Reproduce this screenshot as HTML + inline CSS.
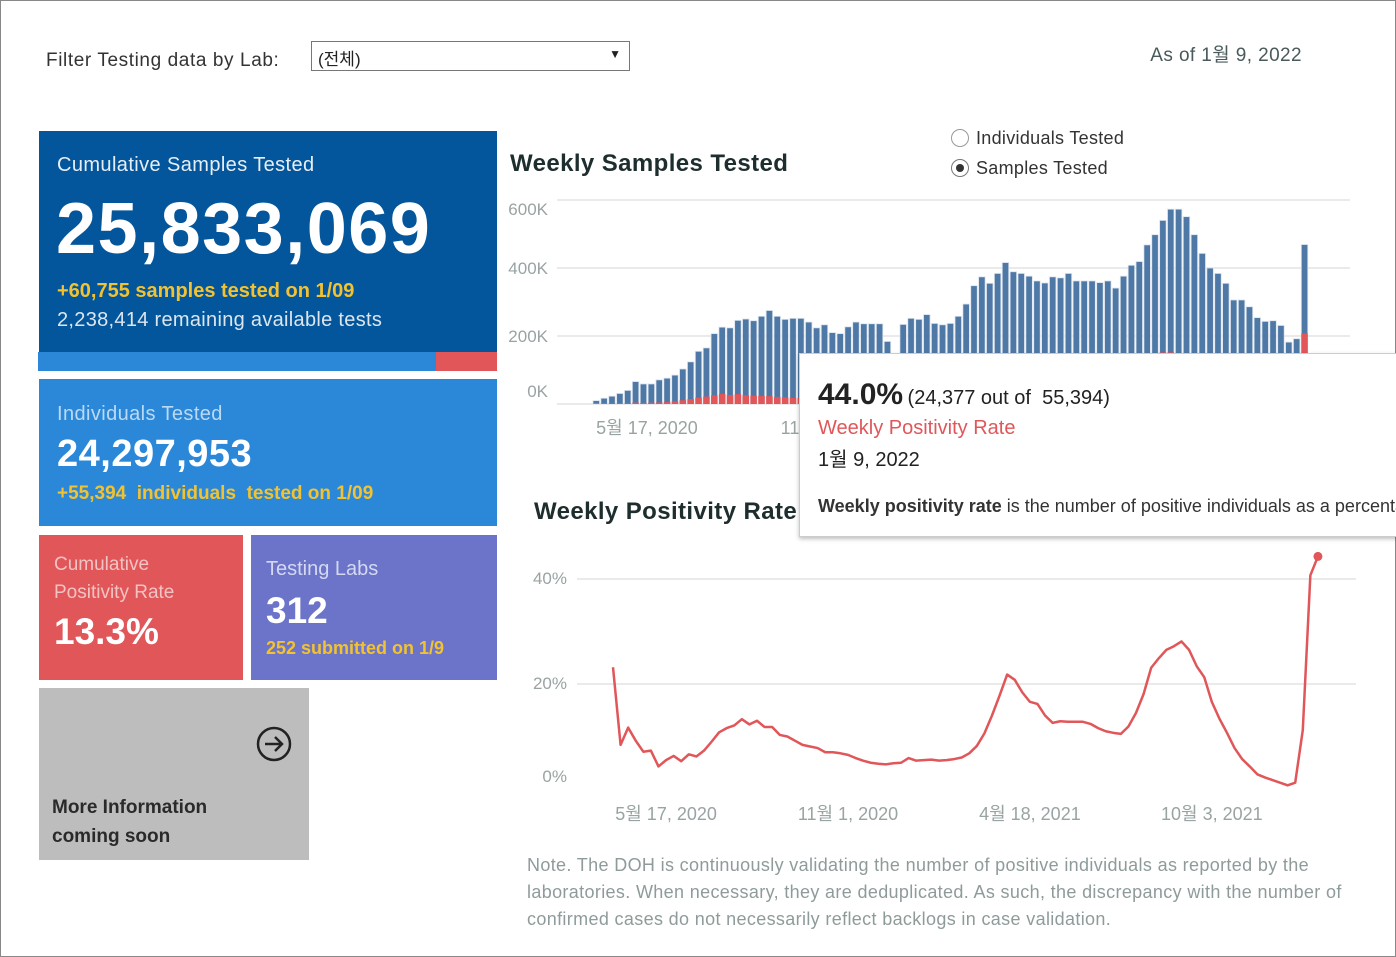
<!DOCTYPE html>
<html><head><meta charset="utf-8">
<style>
*{box-sizing:border-box;margin:0;padding:0}
body{width:1396px;height:957px;background:#fff;font-family:"Liberation Sans","Noto Sans CJK KR",sans-serif;position:relative;overflow:hidden}
.abs{position:absolute}
#frame{left:0;top:0;width:1396px;height:957px;border:1px solid #888}
.card{position:absolute;color:#fff}
</style></head><body>
<div class="abs" id="frame"></div>

<div class="abs" style="left:46px;top:50px;font-size:19px;letter-spacing:0.6px;color:#333">Filter Testing data by Lab:</div>
<div class="abs" style="left:311px;top:41px;width:319px;height:30px;border:1px solid #777;font-size:17px;color:#222;padding:3px 6px">(전체)<span style="position:absolute;right:8px;top:5px;font-size:12px">▼</span></div>
<div class="abs" style="left:1100px;top:40px;width:202px;text-align:right;font-size:19px;letter-spacing:0.4px;color:#4a5a5a">As of 1월 9, 2022</div>

<div class="card" style="left:39px;top:131px;width:458px;height:221px;background:#03569b">
  <div class="abs" style="left:18px;top:23px;font-size:20px;letter-spacing:0.4px;color:#e8eef5">Cumulative Samples Tested</div>
  <div class="abs" style="left:17px;top:57px;font-size:72px;font-weight:bold;letter-spacing:1.5px">25,833,069</div>
  <div class="abs" style="left:18px;top:149px;font-size:20px;font-weight:bold;color:#f2c230">+60,755 samples tested on 1/09</div>
  <div class="abs" style="left:18px;top:178px;font-size:20px;letter-spacing:0.3px;color:#dde6ef">2,238,414 remaining available tests</div>
</div>
<div class="abs" style="left:38px;top:352px;width:398px;height:19px;background:#2b88d8"></div>
<div class="abs" style="left:436px;top:352px;width:61px;height:19px;background:#e05659"></div>

<div class="card" style="left:39px;top:379px;width:458px;height:147px;background:#2b88d8">
  <div class="abs" style="left:18px;top:24px;font-size:20px;letter-spacing:0.4px;color:#bcd9f3">Individuals Tested</div>
  <div class="abs" style="left:18px;top:54px;font-size:38px;font-weight:bold;letter-spacing:0.5px">24,297,953</div>
  <div class="abs" style="left:18px;top:104px;font-size:19px;font-weight:bold;color:#f2c230">+55,394&nbsp; individuals&nbsp; tested on 1/09</div>
</div>

<div class="card" style="left:39px;top:535px;width:204px;height:145px;background:#e05659">
  <div class="abs" style="left:15px;top:16px;font-size:19px;line-height:28px;color:#f3c3c3">Cumulative<br>Positivity Rate</div>
  <div class="abs" style="left:15px;top:76px;font-size:37px;font-weight:bold">13.3%</div>
</div>
<div class="card" style="left:251px;top:535px;width:246px;height:145px;background:#6b74c9">
  <div class="abs" style="left:15px;top:23px;font-size:20px;color:#d5d8f0">Testing Labs</div>
  <div class="abs" style="left:15px;top:55px;font-size:37px;font-weight:bold">312</div>
  <div class="abs" style="left:15px;top:103px;font-size:18px;font-weight:bold;color:#f2c230">252 submitted on 1/9</div>
</div>
<div class="card" style="left:39px;top:688px;width:270px;height:172px;background:#bdbdbd">
  <svg class="abs" style="left:216px;top:37px" width="38" height="38"><circle cx="19" cy="19" r="16" fill="none" stroke="#222" stroke-width="2.5"/><path d="M10 19H27M20 12L27 19L20 26" fill="none" stroke="#222" stroke-width="2.5"/></svg>
  <div class="abs" style="left:13px;top:105px;font-size:19px;line-height:29px;font-weight:bold;color:#2a2a2a">More Information<br>coming soon</div>
</div>

<div class="abs" style="left:510px;top:150px;font-size:24px;letter-spacing:0.4px;font-weight:bold;color:#1e2d2d">Weekly Samples Tested</div>
<div class="abs" style="left:951px;top:128px;font-size:18px;letter-spacing:0.3px;color:#333"><span style="display:inline-block;width:18px;height:18px;border:1px solid #999;border-radius:50%;vertical-align:-3px;margin-right:7px"></span>Individuals Tested</div>
<div class="abs" style="left:951px;top:158px;font-size:18px;letter-spacing:0.3px;color:#333"><span style="display:inline-block;width:18px;height:18px;border:1px solid #777;border-radius:50%;vertical-align:-3px;margin-right:7px;position:relative"><span style="position:absolute;left:4px;top:4px;width:8px;height:8px;border-radius:50%;background:#333"></span></span>Samples Tested</div>

<svg class="abs" style="left:0;top:0" width="1396" height="957" id="charts"></svg>

<div class="abs" style="left:534px;top:498px;font-size:24px;letter-spacing:0.4px;font-weight:bold;color:#1e2d2d">Weekly Positivity Rate</div>

<div class="abs" style="left:799px;top:353px;width:610px;height:184px;background:#fff;border:1px solid #ccc;box-shadow:0 2px 4px rgba(0,0,0,.25);overflow:hidden">
  <div class="abs" style="left:18px;top:24px;white-space:nowrap;color:#222"><span style="font-size:30px;font-weight:bold">44.0%</span> <span style="font-size:20px">(24,377 out of&nbsp; 55,394)</span></div>
  <div class="abs" style="left:18px;top:63px;font-size:20px;color:#e05659">Weekly Positivity Rate</div>
  <div class="abs" style="left:18px;top:89px;font-size:20px;color:#222">1월 9, 2022</div>
  <div class="abs" style="left:18px;top:142px;font-size:18px;color:#333;white-space:nowrap"><b>Weekly positivity rate</b> is the number of positive individuals as a percentage</div>
</div>

<div class="abs" style="left:527px;top:852px;width:840px;font-size:18px;letter-spacing:0.35px;line-height:27px;color:#8f9b9b">Note. The DOH is continuously validating the number of positive individuals as reported by the laboratories. When necessary, they are deduplicated. As such, the discrepancy with the number of confirmed cases do not necessarily reflect backlogs in case validation.</div>

<script>
const samplesK = [10,17,23,31,40,66,59,59,71,76,85,103,124,155,165,207,226,224,246,250,245,258,275,258,249,252,252,241,224,233,210,207,227,241,236,236,236,184,140,234,252,249,263,237,233,237,258,294,348,374,355,384,416,389,384,376,362,356,374,371,384,362,362,362,357,362,341,376,408,419,468,498,540,573,573,551,498,443,400,384,355,306,306,286,254,243,245,231,182,192,469];
const posRate = [23.2,8.4,11.7,9.2,7.1,7.3,4.3,5.5,6.3,5.3,6.6,6.2,7.3,9.0,10.8,11.6,12.1,13.3,12.3,13.0,11.8,11.8,10.3,10.0,9.2,8.4,8.1,7.8,7.0,7.0,6.8,6.5,5.9,5.4,5.0,4.8,4.7,4.9,5.0,5.9,5.4,5.5,5.6,5.4,5.5,5.7,6.0,6.8,8.2,10.6,14.0,17.8,21.8,20.8,18.4,16.6,16.2,14.0,12.6,12.9,12.8,12.8,12.8,12.4,11.6,11.0,10.7,10.5,11.9,14.5,18.1,23.1,24.9,26.5,27.2,28.1,26.5,23.4,21.3,16.6,13.4,10.7,7.8,5.7,4.3,2.8,2.2,1.7,1.2,0.7,1.2,11.2,40.7,44.3];
const barTicks = [0,200,400,600];
const barTickLabels = ["0K","200K","400K","600K"];
const barXLabels = ["5월 17, 2020","11"];
const lineTicks = [0,20,40];
const lineTickLabels = ["0%","20%","40%"];
const lineXLabels = ["5월 17, 2020","11월 1, 2020","4월 18, 2021","10월 3, 2021"];
const lineXLabelIdx = [7,31,55,79];

const NS="http://www.w3.org/2000/svg";
const svg=document.getElementById('charts');
function mk(t,a){const e=document.createElementNS(NS,t);for(const k in a)e.setAttribute(k,a[k]);svg.appendChild(e);return e;}
const by=v=>404-v*0.34;
const bx=i=>593+i*7.87;
barTicks.forEach((t,i)=>{
  const g=mk('line',{x1:557,x2:1350,y1:by(t),y2:by(t),stroke:'#e4e4e4','stroke-width':1.5});
  
  
  const ly=[391,336,268,209][i];
  const l=mk('text',{x:548,y:ly+6,'text-anchor':'end','font-size':17,fill:'#99a3a3','font-family':'Liberation Sans'});
  l.textContent=barTickLabels[i];
  
  
});
samplesK.forEach((v,i)=>{
  const r=mk('rect',{x:bx(i),y:by(v),width:6.5,height:v*0.34,fill:'#4e79a7',stroke:'#dde3ec','stroke-width':0.8});
  
  
  const p=v*posRate[Math.min(i+3,posRate.length-1)]/100;
  const r2=mk('rect',{x:bx(i),y:by(p),width:6.5,height:p*0.34,fill:'#e05659'});
  
  
});
[[647,barXLabels[0]],[790,barXLabels[1]]].forEach(([x,t])=>{
  const l=mk('text',{x:x,y:434,'text-anchor':'middle','font-size':18,fill:'#99a3a3','font-family':'Liberation Sans, Noto Sans CJK KR'});
  l.textContent=t;
  
  
});
const ly=v=>789-v*5.25;
const lx=i=>613+i*7.58;
lineTicks.forEach((t,i)=>{
  if(t>0){const g=mk('line',{x1:577,x2:1356,y1:ly(t),y2:ly(t),stroke:'#e4e4e4','stroke-width':1.5});
  
  }
  const l=mk('text',{x:567,y:[776,683,578][i]+6,'text-anchor':'end','font-size':17,fill:'#99a3a3','font-family':'Liberation Sans'});
  l.textContent=lineTickLabels[i];
  
  
});
const pl=mk('polyline',{points:posRate.map((v,i)=>lx(i)+','+ly(v)).join(' '),fill:'none',stroke:'#e05659','stroke-width':2.5,'stroke-linejoin':'round'});


const last=posRate.length-1;
const dot=mk('circle',{cx:lx(last),cy:ly(posRate[last]),r:4.5,fill:'#e05659'});


lineXLabels.forEach((t,i)=>{
  const l=mk('text',{x:lx(lineXLabelIdx[i]),y:820,'text-anchor':'middle','font-size':18,fill:'#99a3a3','font-family':'Liberation Sans, Noto Sans CJK KR'});
  l.textContent=t;
  
  
});
</script>
</body></html>
